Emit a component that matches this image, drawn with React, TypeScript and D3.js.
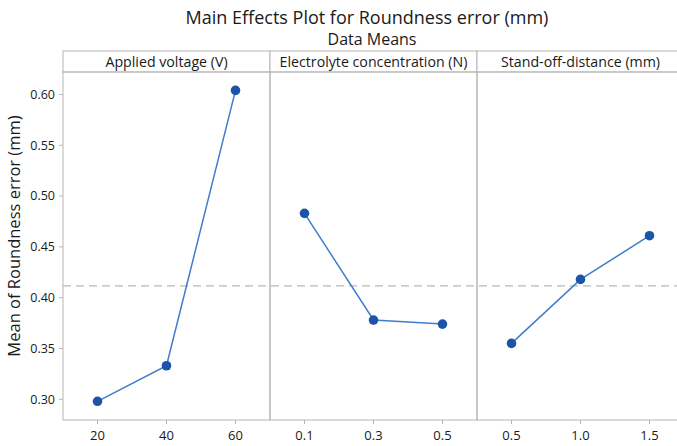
import * as d3 from 'd3'

const FACTORS = ['Applied voltage (V)', 'Electrolyte concentration (N)', 'Stand-off-distance (mm)']
const LEVELS = [
  ['20', '40', '60'],
  ['0.1', '0.3', '0.5'],
  ['0.5', '1.0', '1.5'],
]
const MEANS = [
  [0.298, 0.333, 0.604],
  [0.483, 0.378, 0.374],
  [0.355, 0.418, 0.461],
]
const Y_TICKS = [0.3, 0.35, 0.4, 0.45, 0.5, 0.55, 0.6]

const W = 677
const H = 446
const PLOT = { left: 63, top: 72, bottom: 420, panelW: 207 }
const STRIP_TOP = 51
const FONT = '"Open Sans", "Segoe UI", sans-serif'
const FRAME = '#b5b5b5'
const LINE = '#3f7dcc'
const DOT = '#1c55a8'
const INK = '#1a1a1a'

export default function App() {
  const grandMean = d3.mean(MEANS.flat()) as number

  const y = d3.scaleLinear()
    .domain([0.2796, 0.6221])
    .range([PLOT.bottom, PLOT.top])

  const panelX = (i: number) => PLOT.left + i * PLOT.panelW
  const plotRight = panelX(FACTORS.length)

  return (
    <svg width={W} height={H} style={{ position: 'absolute', left: 0, top: 0, background: '#fff' }} fontFamily={FONT}>
      {/* Titles */}
      <text x={367} y={24} textAnchor="middle" fontSize={18} fill={INK}>
        Main Effects Plot for Roundness error (mm)
      </text>
      <text x={372} y={45} textAnchor="middle" fontSize={16} fill={INK}>
        Data Means
      </text>

      {/* Y axis label */}
      <text
        transform={`translate(20, ${236}) rotate(-90)`}
        textAnchor="middle"
        fontSize={16.5}
        fill={INK}
      >
        Mean of Roundness error (mm)
      </text>

      {/* Mean reference line */}
      <line
        x1={PLOT.left}
        x2={plotRight}
        y1={y(grandMean)}
        y2={y(grandMean)}
        stroke="#b8b8b8"
        strokeWidth={1.3}
        strokeDasharray="8,5"
      />

      {/* Y ticks */}
      {Y_TICKS.map(t => (
        <g key={t}>
          <line x1={PLOT.left - 4} x2={PLOT.left} y1={y(t)} y2={y(t)} stroke={FRAME} />
          <text x={PLOT.left - 8} y={y(t)} dy="0.35em" textAnchor="end" fontSize={12.5} fill={INK}>
            {t.toFixed(2)}
          </text>
        </g>
      ))}

      {FACTORS.map((f, i) => {
        const x0 = panelX(i)
        const x = d3.scalePoint<string>()
          .domain(LEVELS[i])
          .range([x0, x0 + PLOT.panelW])
          .padding(0.5)
        const pts = LEVELS[i].map((lv, j) => [x(lv) as number, y(MEANS[i][j])] as [number, number])
        const path = d3.line()(pts) as string
        return (
          <g key={f}>
            {/* strip */}
            <rect x={x0} y={STRIP_TOP} width={PLOT.panelW} height={PLOT.top - STRIP_TOP} fill="#fff" stroke={FRAME} />
            <text x={x0 + PLOT.panelW / 2} y={67} textAnchor="middle" fontSize={14.2} fill={INK}>
              {f}
            </text>
            {/* panel frame */}
            <rect x={x0} y={PLOT.top} width={PLOT.panelW} height={PLOT.bottom - PLOT.top} fill="none" stroke={FRAME} />
            {/* x ticks */}
            {LEVELS[i].map(lv => (
              <g key={lv}>
                <line x1={x(lv)} x2={x(lv)} y1={PLOT.bottom} y2={PLOT.bottom + 4} stroke={FRAME} />
                <text x={x(lv)} y={440} textAnchor="middle" fontSize={13} fill={INK}>
                  {lv}
                </text>
              </g>
            ))}
            <path d={path} fill="none" stroke={LINE} strokeWidth={1.5} />
            {pts.map((p, j) => (
              <circle key={j} cx={p[0]} cy={p[1]} r={4.8} fill={DOT} />
            ))}
          </g>
        )
      })}
    </svg>
  )
}
